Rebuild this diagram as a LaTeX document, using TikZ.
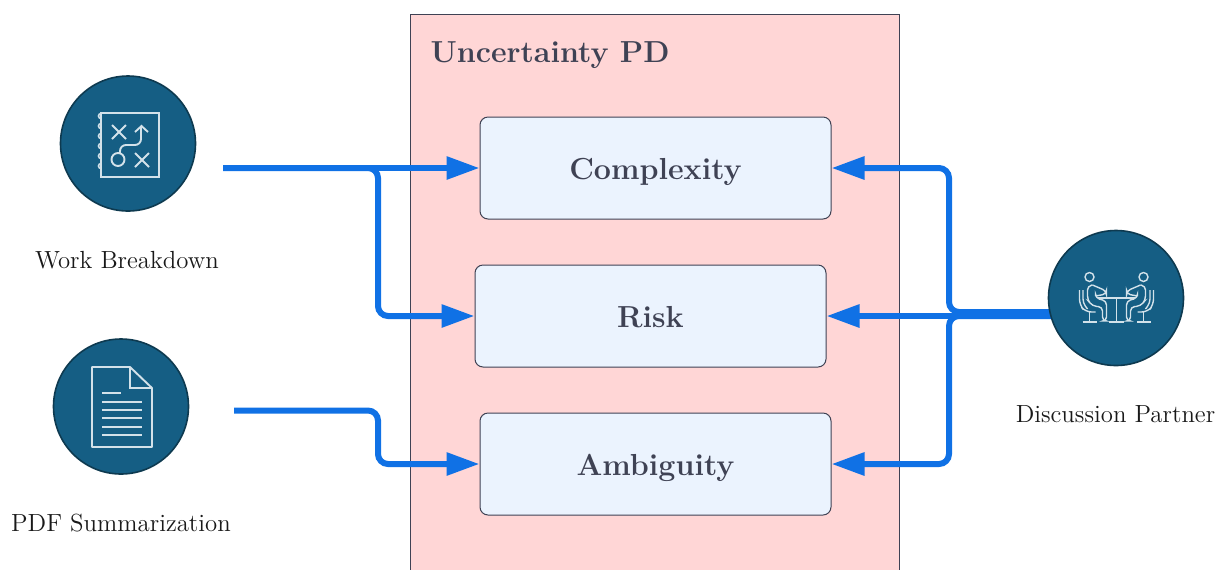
\documentclass[tikz,border=0pt]{standalone}
\usepackage[]{xcolor}
\usetikzlibrary{arrows.meta}
\definecolor{flowblue}{HTML}{1071E5}
\definecolor{toolteal}{HTML}{155E84}
\definecolor{tooledge}{HTML}{0E3A50}
\definecolor{iconline}{HTML}{D3E2EA}
\definecolor{inkgray}{HTML}{3F4254}
\definecolor{panelpink}{HTML}{FFD6D6}
\definecolor{boxblue}{HTML}{EBF3FE}
\tikzset{flow/.style = {draw = flowblue, line width = 3pt, rounded corners = 5pt, -{Triangle[length = 16.5pt, width = 11pt]}}}
\tikzset{tool/.style = {draw = tooledge, line width = 0.8pt, fill = toolteal, circle, inner sep = 0, minimum size = 67.5pt}}
\tikzset{uncbox/.style = {draw = inkgray, line width = 0.5pt, fill = boxblue, rounded corners = 4pt, minimum width = 175.5pt, minimum height = 51pt, text = inkgray, text height = 11.5pt, text depth = 0pt, font = \fontsize{15.2}{18}\selectfont\bfseries}}
\tikzset{toollabel/.style = {text = black!90, font = \fontsize{12.4}{15}\selectfont}}
\tikzset{icon/.style = {draw = iconline, line width = 0.95pt}}

\begin{document}
\begin{tikzpicture}[x = 0.5pt, y = -0.5pt]
            \clip (0,0) rectangle (1216,569);
            \draw [draw = inkgray, line width = 0.5pt, fill = panelpink] (410.5,14.5) rectangle (899.5,600);
            \node [anchor = west, text = inkgray, font = \fontsize{15.2}{18}\selectfont\bfseries] (title) at (423.5,55) {Uncertainty PD};
            \node [uncbox] (complexity) at (655.5,168) {Complexity};
            \node [uncbox] (risk) at (650.5,316) {Risk};
            \node [uncbox] (ambiguity) at (655.5,464) {Ambiguity};

            \coordinate (busleft) at (378,0);
            \coordinate (busright) at (949,0);
            \coordinate (workout) at (223,168);
            \coordinate (pdfout) at (234,410.5);
            \coordinate (partnerup) at (1052,312);
            \coordinate (partnerdown) at (1052,316);
            \draw [flow] (workout) -- (complexity.west);
            \draw [flow] (workout) -- (workout -| busleft) -- (busleft |- risk.west) -- (risk.west);
            \draw [flow] (pdfout) -- (pdfout -| busleft) -- (busleft |- ambiguity.west) -- (ambiguity.west);
            \draw [flow] (partnerup) -- (partnerup -| busright) -- (busright |- complexity.east) -- (complexity.east);
            \draw [flow] (partnerdown) -- (risk.east);
            \draw [flow] (partnerdown) -- (partnerdown -| busright) -- (busright |- ambiguity.east) -- (ambiguity.east);

            \node [tool] (work) at (128,143.5) {};
            \node [tool] (pdf) at (121,406.5) {};
            \node [tool] (partner) at (1116,298) {};
            \node [toollabel] (worklabel) at (127,260) {Work Breakdown};
            \node [toollabel] (pdflabel) at (121,523) {PDF Summarization};
            \node [toollabel] (partnerlabel) at (1115.5,414) {Discussion Partner};

            \draw [icon] (101,113) rectangle (159,177);
            \foreach \y in {121,131,141,151,161,171} {
                \draw [icon, line width = 0.8pt] (101,\y-2.5) arc (90:270:2.5);
            }
            \draw [icon] (112,125)--(126,139) (126,125)--(112,139);
            \draw [icon] (135,153)--(149,167) (149,153)--(135,167);
            \draw [icon] (118,159.5) circle (6.5);
            \draw [icon, rounded corners = 3pt] (120,153)--(120,145)--(141,145)--(141,127);
            \draw [icon] (135,132)--(141.5,126)--(148,132);

            \draw [icon, line join = round] (92,367)--(130,367)--(152,388)--(152,447)--(92,447)--cycle;
            \draw [icon] (130,367)--(130,388)--(152,388);
            \draw [icon] (102,393)--(121,393);
            \foreach \y in {402,410,418,427,435} {
                \draw [icon] (102,\y)--(142,\y);
            }

            \draw [icon, line width = 0.8pt] (1098,298)--(1135,298) (1116.5,298)--(1116.5,322) (1109,322)--(1124,322);
            \foreach \s in {1,-1} {
                \begin{scope}[shift = {(1116.5,0)}, xscale = \s, icon/.append style = {line width = 0.7pt}]
                    \draw [icon] (-27,277) circle (4.5);
                    \draw [icon, rounded corners = 2pt] (-24,285)--(-29,286)--(-29,300)--(-24,306)--(-14,307)--(-14,321)--(-10,321)--(-10,301)--(-21,298)--(-21,296);
                    \draw [icon, rounded corners = 2pt] (-24,285)--(-10,291)--(-10,294)--(-21,296);
                    \draw [icon, rounded corners = 3pt] (-37,290)--(-37,305)--(-31,312)--(-21,312);
                    \draw [icon, rounded corners = 2pt] (-33.5,290)--(-33.5,303)--(-29,309);
                    \draw [icon] (-27,312)--(-27,322) (-34,322)--(-20,322);
                \end{scope}
            }

        \end{tikzpicture}
\end{document}
